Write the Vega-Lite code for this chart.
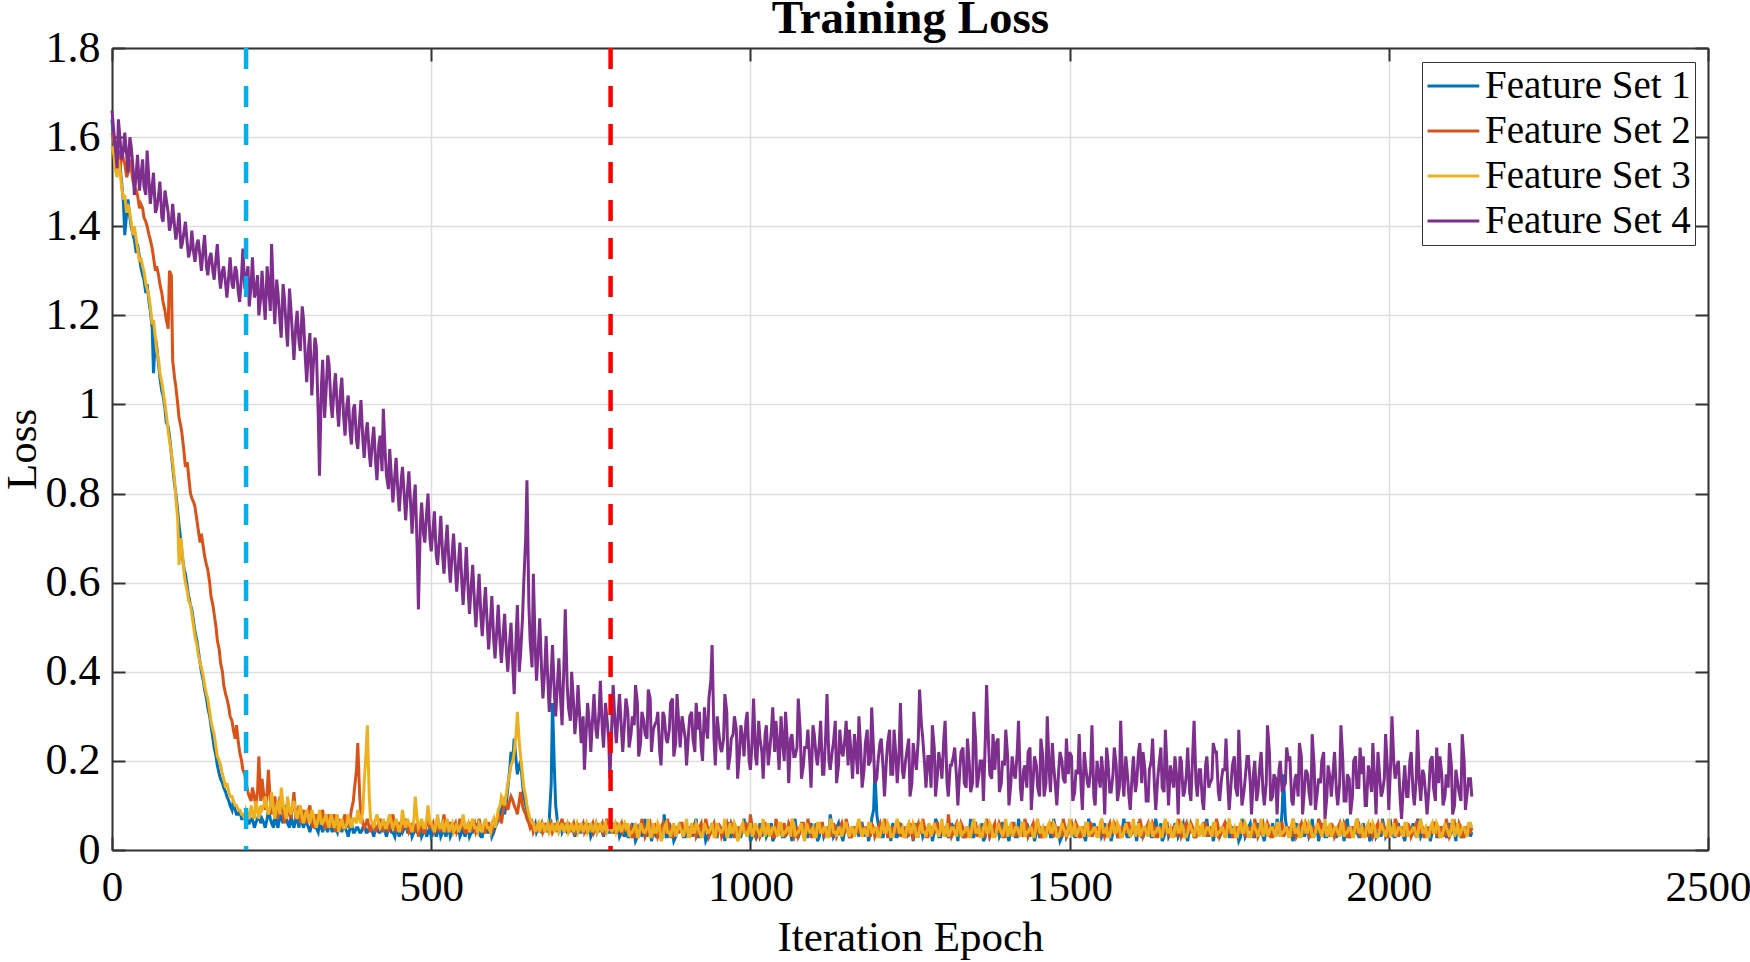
{
  "$schema": "https://vega.github.io/schema/vega-lite/v6.json",
  "width": 1596,
  "height": 802,
  "autosize": {"type": "none"},
  "padding": {"left": 112, "top": 48, "right": 42, "bottom": 112},
  "background": "white",
  "config": {
    "view": {"stroke": null},
    "axis": {
      "domainColor": "#333", "domainWidth": 2,
      "tickColor": "#333", "tickWidth": 2, "tickSize": -13,
      "labelFont": "Liberation Serif", "labelFontSize": 44, "labelColor": "#000",
      "titleFont": "Liberation Serif", "titleFontSize": 43, "titleFontWeight": "normal", "titleColor": "#000",
      "gridColor": "#dedede", "gridWidth": 1.5
    }
  },
  "datasets": {
    "loss": [
{"e":0,"a":1.64,"b":1.61,"c":1.58,"d":1.66},
{"e":3,"a":1.58,"b":1.59,"c":1.56,"d":1.61},
{"e":5,"a":1.55,"b":1.57,"c":1.53,"d":1.58},
{"e":8,"a":1.52,"b":1.58,"c":1.51,"d":1.53},
{"e":10,"a":1.57,"b":1.55,"c":1.55,"d":1.64},
{"e":13,"a":1.53,"b":1.53,"c":1.52,"d":1.59},
{"e":15,"a":1.50,"b":1.57,"c":1.49,"d":1.55},
{"e":18,"a":1.45,"b":1.55,"c":1.46,"d":1.57},
{"e":20,"a":1.38,"b":1.54,"c":1.47,"d":1.61},
{"e":23,"a":1.43,"b":1.51,"c":1.43,"d":1.56},
{"e":25,"a":1.46,"b":1.52,"c":1.45,"d":1.52},
{"e":28,"a":1.42,"b":1.55,"c":1.43,"d":1.60},
{"e":30,"a":1.40,"b":1.53,"c":1.41,"d":1.58},
{"e":33,"a":1.38,"b":1.50,"c":1.38,"d":1.53},
{"e":35,"a":1.37,"b":1.49,"c":1.40,"d":1.47},
{"e":38,"a":1.34,"b":1.48,"c":1.37,"d":1.52},
{"e":40,"a":1.36,"b":1.47,"c":1.35,"d":1.56},
{"e":43,"a":1.33,"b":1.44,"c":1.32,"d":1.48},
{"e":45,"a":1.31,"b":1.45,"c":1.33,"d":1.51},
{"e":48,"a":1.29,"b":1.44,"c":1.31,"d":1.55},
{"e":50,"a":1.28,"b":1.42,"c":1.30,"d":1.49},
{"e":53,"a":1.25,"b":1.41,"c":1.27,"d":1.47},
{"e":55,"a":1.27,"b":1.40,"c":1.26,"d":1.57},
{"e":58,"a":1.23,"b":1.38,"c":1.24,"d":1.50},
{"e":60,"a":1.21,"b":1.37,"c":1.22,"d":1.45},
{"e":63,"a":1.17,"b":1.35,"c":1.18,"d":1.49},
{"e":65,"a":1.07,"b":1.33,"c":1.19,"d":1.52},
{"e":68,"a":1.15,"b":1.30,"c":1.15,"d":1.43},
{"e":70,"a":1.13,"b":1.31,"c":1.12,"d":1.44},
{"e":73,"a":1.09,"b":1.29,"c":1.10,"d":1.47},
{"e":75,"a":1.06,"b":1.27,"c":1.07,"d":1.50},
{"e":78,"a":1.03,"b":1.25,"c":1.05,"d":1.42},
{"e":80,"a":1.02,"b":1.23,"c":1.03,"d":1.41},
{"e":83,"a":0.99,"b":1.21,"c":1.00,"d":1.48},
{"e":85,"a":0.96,"b":1.19,"c":0.98,"d":1.46},
{"e":88,"a":0.95,"b":1.17,"c":0.94,"d":1.43},
{"e":90,"a":0.93,"b":1.30,"c":0.92,"d":1.39},
{"e":93,"a":0.89,"b":1.29,"c":0.89,"d":1.41},
{"e":95,"a":0.86,"b":1.10,"c":0.87,"d":1.45},
{"e":98,"a":0.82,"b":1.06,"c":0.83,"d":1.40},
{"e":100,"a":0.80,"b":1.04,"c":0.79,"d":1.37},
{"e":103,"a":0.76,"b":1.00,"c":0.74,"d":1.40},
{"e":105,"a":0.73,"b":0.97,"c":0.64,"d":1.43},
{"e":108,"a":0.69,"b":0.95,"c":0.70,"d":1.35},
{"e":110,"a":0.66,"b":0.93,"c":0.67,"d":1.36},
{"e":113,"a":0.63,"b":0.89,"c":0.62,"d":1.39},
{"e":115,"a":0.62,"b":0.86,"c":0.60,"d":1.41},
{"e":118,"a":0.59,"b":0.87,"c":0.58,"d":1.36},
{"e":120,"a":0.57,"b":0.84,"c":0.56,"d":1.33},
{"e":123,"a":0.55,"b":0.80,"c":0.55,"d":1.35},
{"e":125,"a":0.54,"b":0.79,"c":0.53,"d":1.39},
{"e":128,"a":0.51,"b":0.78,"c":0.50,"d":1.34},
{"e":130,"a":0.49,"b":0.77,"c":0.48,"d":1.32},
{"e":133,"a":0.47,"b":0.74,"c":0.46,"d":1.36},
{"e":135,"a":0.45,"b":0.72,"c":0.44,"d":1.37},
{"e":138,"a":0.42,"b":0.69,"c":0.42,"d":1.33},
{"e":140,"a":0.40,"b":0.71,"c":0.41,"d":1.30},
{"e":143,"a":0.38,"b":0.68,"c":0.39,"d":1.35},
{"e":145,"a":0.36,"b":0.66,"c":0.37,"d":1.38},
{"e":148,"a":0.34,"b":0.64,"c":0.35,"d":1.31},
{"e":150,"a":0.32,"b":0.63,"c":0.34,"d":1.29},
{"e":153,"a":0.30,"b":0.60,"c":0.31,"d":1.33},
{"e":155,"a":0.28,"b":0.57,"c":0.29,"d":1.34},
{"e":158,"a":0.25,"b":0.55,"c":0.27,"d":1.30},
{"e":160,"a":0.23,"b":0.53,"c":0.26,"d":1.28},
{"e":163,"a":0.21,"b":0.50,"c":0.23,"d":1.33},
{"e":165,"a":0.19,"b":0.47,"c":0.21,"d":1.36},
{"e":168,"a":0.17,"b":0.45,"c":0.20,"d":1.29},
{"e":170,"a":0.16,"b":0.42,"c":0.19,"d":1.26},
{"e":173,"a":0.15,"b":0.40,"c":0.17,"d":1.30},
{"e":175,"a":0.14,"b":0.37,"c":0.16,"d":1.31},
{"e":178,"a":0.13,"b":0.35,"c":0.14,"d":1.27},
{"e":180,"a":0.12,"b":0.34,"c":0.15,"d":1.24},
{"e":183,"a":0.11,"b":0.32,"c":0.13,"d":1.29},
{"e":185,"a":0.10,"b":0.30,"c":0.12,"d":1.33},
{"e":188,"a":0.09,"b":0.29,"c":0.12,"d":1.27},
{"e":190,"a":0.11,"b":0.27,"c":0.11,"d":1.26},
{"e":193,"a":0.09,"b":0.25,"c":0.10,"d":1.31},
{"e":195,"a":0.08,"b":0.28,"c":0.10,"d":1.30},
{"e":198,"a":0.08,"b":0.24,"c":0.09,"d":1.25},
{"e":200,"a":0.09,"b":0.22,"c":0.09,"d":1.23},
{"e":203,"a":0.07,"b":0.20,"c":0.08,"d":1.29},
{"e":205,"a":0.07,"b":0.18,"c":0.08,"d":1.35},
{"e":208,"a":0.07,"b":0.17,"c":0.07,"d":1.26},
{"e":210,"a":0.08,"b":0.15,"c":0.09,"d":1.28},
{"e":213,"a":0.06,"b":0.13,"c":0.08,"d":1.31},
{"e":215,"a":0.06,"b":0.12,"c":0.07,"d":1.22},
{"e":218,"a":0.07,"b":0.11,"c":0.10,"d":1.27},
{"e":220,"a":0.07,"b":0.14,"c":0.08,"d":1.33},
{"e":223,"a":0.05,"b":0.12,"c":0.07,"d":1.24},
{"e":225,"a":0.06,"b":0.10,"c":0.11,"d":1.25},
{"e":228,"a":0.07,"b":0.13,"c":0.09,"d":1.29},
{"e":230,"a":0.08,"b":0.21,"c":0.07,"d":1.20},
{"e":233,"a":0.06,"b":0.11,"c":0.10,"d":1.24},
{"e":235,"a":0.07,"b":0.16,"c":0.09,"d":1.30},
{"e":238,"a":0.06,"b":0.12,"c":0.10,"d":1.23},
{"e":240,"a":0.05,"b":0.09,"c":0.12,"d":1.19},
{"e":243,"a":0.07,"b":0.13,"c":0.09,"d":1.31},
{"e":245,"a":0.09,"b":0.18,"c":0.08,"d":1.27},
{"e":248,"a":0.07,"b":0.11,"c":0.10,"d":1.21},
{"e":250,"a":0.06,"b":0.08,"c":0.13,"d":1.36},
{"e":253,"a":0.05,"b":0.10,"c":0.09,"d":1.24},
{"e":255,"a":0.08,"b":0.12,"c":0.07,"d":1.18},
{"e":258,"a":0.06,"b":0.09,"c":0.10,"d":1.28},
{"e":260,"a":0.05,"b":0.07,"c":0.11,"d":1.25},
{"e":263,"a":0.08,"b":0.12,"c":0.08,"d":1.19},
{"e":265,"a":0.07,"b":0.10,"c":0.14,"d":1.15},
{"e":268,"a":0.06,"b":0.08,"c":0.10,"d":1.27},
{"e":270,"a":0.10,"b":0.06,"c":0.09,"d":1.24},
{"e":273,"a":0.07,"b":0.09,"c":0.07,"d":1.17},
{"e":275,"a":0.06,"b":0.11,"c":0.12,"d":1.13},
{"e":278,"a":0.05,"b":0.08,"c":0.09,"d":1.26},
{"e":280,"a":0.08,"b":0.07,"c":0.08,"d":1.22},
{"e":283,"a":0.06,"b":0.10,"c":0.10,"d":1.15},
{"e":285,"a":0.05,"b":0.13,"c":0.11,"d":1.10},
{"e":288,"a":0.07,"b":0.07,"c":0.08,"d":1.18},
{"e":290,"a":0.07,"b":0.08,"c":0.07,"d":1.21},
{"e":293,"a":0.05,"b":0.10,"c":0.09,"d":1.14},
{"e":295,"a":0.09,"b":0.06,"c":0.10,"d":1.12},
{"e":298,"a":0.06,"b":0.08,"c":0.07,"d":1.22},
{"e":300,"a":0.05,"b":0.09,"c":0.06,"d":1.19},
{"e":303,"a":0.07,"b":0.06,"c":0.08,"d":1.10},
{"e":305,"a":0.06,"b":0.07,"c":0.09,"d":1.05},
{"e":308,"a":0.05,"b":0.09,"c":0.07,"d":1.13},
{"e":310,"a":0.04,"b":0.10,"c":0.06,"d":1.16},
{"e":313,"a":0.06,"b":0.06,"c":0.09,"d":1.02},
{"e":315,"a":0.07,"b":0.05,"c":0.08,"d":1.08},
{"e":318,"a":0.05,"b":0.07,"c":0.06,"d":1.15},
{"e":320,"a":0.05,"b":0.08,"c":0.05,"d":1.13},
{"e":323,"a":0.04,"b":0.06,"c":0.07,"d":0.98},
{"e":325,"a":0.06,"b":0.06,"c":0.09,"d":0.84},
{"e":328,"a":0.05,"b":0.08,"c":0.06,"d":1.04},
{"e":330,"a":0.04,"b":0.09,"c":0.06,"d":1.10},
{"e":333,"a":0.06,"b":0.05,"c":0.07,"d":0.97},
{"e":335,"a":0.05,"b":0.05,"c":0.08,"d":1.02},
{"e":338,"a":0.04,"b":0.07,"c":0.06,"d":1.11},
{"e":340,"a":0.07,"b":0.08,"c":0.05,"d":1.09},
{"e":343,"a":0.05,"b":0.05,"c":0.08,"d":1.00},
{"e":345,"a":0.04,"b":0.06,"c":0.07,"d":0.97},
{"e":348,"a":0.06,"b":0.08,"c":0.05,"d":1.04},
{"e":350,"a":0.05,"b":0.04,"c":0.06,"d":1.07},
{"e":353,"a":0.04,"b":0.06,"c":0.08,"d":0.99},
{"e":355,"a":0.06,"b":0.07,"c":0.04,"d":0.95},
{"e":358,"a":0.05,"b":0.05,"c":0.06,"d":1.03},
{"e":360,"a":0.04,"b":0.05,"c":0.07,"d":1.06},
{"e":363,"a":0.06,"b":0.07,"c":0.05,"d":0.97},
{"e":365,"a":0.05,"b":0.08,"c":0.05,"d":0.93},
{"e":368,"a":0.04,"b":0.05,"c":0.06,"d":1.00},
{"e":370,"a":0.03,"b":0.06,"c":0.08,"d":1.02},
{"e":373,"a":0.05,"b":0.07,"c":0.06,"d":0.94},
{"e":375,"a":0.06,"b":0.09,"c":0.05,"d":0.91},
{"e":378,"a":0.04,"b":0.11,"c":0.07,"d":0.99},
{"e":380,"a":0.04,"b":0.14,"c":0.07,"d":1.00},
{"e":383,"a":0.05,"b":0.18,"c":0.06,"d":0.92},
{"e":385,"a":0.05,"b":0.24,"c":0.09,"d":0.90},
{"e":388,"a":0.04,"b":0.12,"c":0.07,"d":0.97},
{"e":390,"a":0.04,"b":0.08,"c":0.06,"d":1.01},
{"e":393,"a":0.05,"b":0.06,"c":0.09,"d":0.92},
{"e":395,"a":0.06,"b":0.05,"c":0.15,"d":0.88},
{"e":398,"a":0.04,"b":0.06,"c":0.22,"d":0.94},
{"e":400,"a":0.04,"b":0.07,"c":0.28,"d":0.96},
{"e":403,"a":0.05,"b":0.05,"c":0.12,"d":0.89},
{"e":405,"a":0.05,"b":0.04,"c":0.07,"d":0.86},
{"e":408,"a":0.04,"b":0.06,"c":0.06,"d":0.92},
{"e":410,"a":0.03,"b":0.06,"c":0.05,"d":0.95},
{"e":413,"a":0.05,"b":0.04,"c":0.07,"d":0.87},
{"e":415,"a":0.05,"b":0.05,"c":0.08,"d":0.83},
{"e":418,"a":0.04,"b":0.06,"c":0.06,"d":0.91},
{"e":420,"a":0.04,"b":0.07,"c":0.05,"d":0.93},
{"e":423,"a":0.05,"b":0.05,"c":0.06,"d":0.85},
{"e":425,"a":0.06,"b":0.04,"c":0.07,"d":0.99},
{"e":428,"a":0.04,"b":0.06,"c":0.05,"d":0.89},
{"e":430,"a":0.03,"b":0.06,"c":0.05,"d":0.84},
{"e":433,"a":0.05,"b":0.04,"c":0.07,"d":0.81},
{"e":435,"a":0.05,"b":0.05,"c":0.08,"d":0.90},
{"e":438,"a":0.04,"b":0.07,"c":0.06,"d":0.83},
{"e":440,"a":0.04,"b":0.08,"c":0.05,"d":0.78},
{"e":443,"a":0.03,"b":0.05,"c":0.06,"d":0.84},
{"e":445,"a":0.05,"b":0.04,"c":0.07,"d":0.88},
{"e":448,"a":0.04,"b":0.06,"c":0.05,"d":0.80},
{"e":450,"a":0.03,"b":0.06,"c":0.04,"d":0.76},
{"e":453,"a":0.05,"b":0.04,"c":0.06,"d":0.83},
{"e":455,"a":0.04,"b":0.05,"c":0.09,"d":0.86},
{"e":458,"a":0.05,"b":0.06,"c":0.06,"d":0.79},
{"e":460,"a":0.06,"b":0.07,"c":0.05,"d":0.74},
{"e":463,"a":0.04,"b":0.05,"c":0.07,"d":0.81},
{"e":465,"a":0.04,"b":0.04,"c":0.06,"d":0.85},
{"e":468,"a":0.05,"b":0.05,"c":0.05,"d":0.77},
{"e":470,"a":0.03,"b":0.06,"c":0.04,"d":0.71},
{"e":473,"a":0.04,"b":0.04,"c":0.07,"d":0.79},
{"e":475,"a":0.05,"b":0.05,"c":0.12,"d":0.82},
{"e":478,"a":0.04,"b":0.06,"c":0.07,"d":0.68},
{"e":480,"a":0.04,"b":0.03,"c":0.05,"d":0.54},
{"e":483,"a":0.05,"b":0.05,"c":0.06,"d":0.73},
{"e":485,"a":0.03,"b":0.06,"c":0.07,"d":0.78},
{"e":488,"a":0.04,"b":0.04,"c":0.05,"d":0.71},
{"e":490,"a":0.05,"b":0.04,"c":0.05,"d":0.69},
{"e":493,"a":0.03,"b":0.06,"c":0.07,"d":0.76},
{"e":495,"a":0.04,"b":0.07,"c":0.10,"d":0.80},
{"e":498,"a":0.05,"b":0.05,"c":0.06,"d":0.70},
{"e":500,"a":0.03,"b":0.05,"c":0.06,"d":0.67},
{"e":503,"a":0.04,"b":0.06,"c":0.05,"d":0.72},
{"e":505,"a":0.05,"b":0.04,"c":0.04,"d":0.76},
{"e":508,"a":0.03,"b":0.05,"c":0.06,"d":0.66},
{"e":510,"a":0.04,"b":0.06,"c":0.08,"d":0.64},
{"e":513,"a":0.05,"b":0.04,"c":0.05,"d":0.70},
{"e":515,"a":0.03,"b":0.05,"c":0.05,"d":0.75},
{"e":518,"a":0.04,"b":0.06,"c":0.06,"d":0.66},
{"e":520,"a":0.05,"b":0.08,"c":0.04,"d":0.62},
{"e":523,"a":0.03,"b":0.05,"c":0.06,"d":0.69},
{"e":525,"a":0.04,"b":0.04,"c":0.07,"d":0.73},
{"e":528,"a":0.05,"b":0.06,"c":0.04,"d":0.64},
{"e":530,"a":0.03,"b":0.06,"c":0.05,"d":0.60},
{"e":533,"a":0.04,"b":0.04,"c":0.06,"d":0.67},
{"e":535,"a":0.06,"b":0.05,"c":0.04,"d":0.71},
{"e":538,"a":0.04,"b":0.06,"c":0.05,"d":0.63},
{"e":540,"a":0.04,"b":0.04,"c":0.06,"d":0.58},
{"e":543,"a":0.05,"b":0.05,"c":0.04,"d":0.65},
{"e":545,"a":0.03,"b":0.07,"c":0.05,"d":0.69},
{"e":548,"a":0.04,"b":0.05,"c":0.06,"d":0.60},
{"e":550,"a":0.05,"b":0.05,"c":0.08,"d":0.55},
{"e":553,"a":0.03,"b":0.04,"c":0.05,"d":0.62},
{"e":555,"a":0.04,"b":0.04,"c":0.05,"d":0.68},
{"e":558,"a":0.05,"b":0.06,"c":0.06,"d":0.58},
{"e":560,"a":0.03,"b":0.06,"c":0.04,"d":0.53},
{"e":563,"a":0.04,"b":0.04,"c":0.06,"d":0.60},
{"e":565,"a":0.04,"b":0.05,"c":0.07,"d":0.64},
{"e":568,"a":0.05,"b":0.06,"c":0.05,"d":0.55},
{"e":570,"a":0.06,"b":0.04,"c":0.05,"d":0.50},
{"e":573,"a":0.04,"b":0.05,"c":0.04,"d":0.57},
{"e":575,"a":0.04,"b":0.07,"c":0.06,"d":0.62},
{"e":578,"a":0.03,"b":0.05,"c":0.05,"d":0.52},
{"e":580,"a":0.03,"b":0.05,"c":0.04,"d":0.48},
{"e":583,"a":0.05,"b":0.04,"c":0.06,"d":0.55},
{"e":585,"a":0.05,"b":0.04,"c":0.07,"d":0.59},
{"e":588,"a":0.04,"b":0.06,"c":0.05,"d":0.50},
{"e":590,"a":0.04,"b":0.06,"c":0.05,"d":0.45},
{"e":593,"a":0.05,"b":0.04,"c":0.04,"d":0.52},
{"e":595,"a":0.03,"b":0.04,"c":0.06,"d":0.57},
{"e":598,"a":0.04,"b":0.06,"c":0.07,"d":0.47},
{"e":600,"a":0.05,"b":0.05,"c":0.05,"d":0.43},
{"e":603,"a":0.06,"b":0.07,"c":0.07,"d":0.50},
{"e":605,"a":0.07,"b":0.08,"c":0.09,"d":0.55},
{"e":608,"a":0.08,"b":0.07,"c":0.10,"d":0.46},
{"e":610,"a":0.10,"b":0.06,"c":0.12,"d":0.42},
{"e":613,"a":0.09,"b":0.09,"c":0.11,"d":0.49},
{"e":615,"a":0.08,"b":0.11,"c":0.10,"d":0.53},
{"e":618,"a":0.11,"b":0.10,"c":0.13,"d":0.44},
{"e":620,"a":0.14,"b":0.09,"c":0.15,"d":0.40},
{"e":623,"a":0.18,"b":0.11,"c":0.17,"d":0.47},
{"e":625,"a":0.22,"b":0.12,"c":0.19,"d":0.51},
{"e":628,"a":0.21,"b":0.11,"c":0.20,"d":0.41},
{"e":630,"a":0.25,"b":0.10,"c":0.22,"d":0.35},
{"e":633,"a":0.20,"b":0.09,"c":0.26,"d":0.48},
{"e":635,"a":0.17,"b":0.08,"c":0.31,"d":0.55},
{"e":638,"a":0.19,"b":0.11,"c":0.24,"d":0.40},
{"e":640,"a":0.20,"b":0.13,"c":0.21,"d":0.44},
{"e":643,"a":0.15,"b":0.10,"c":0.17,"d":0.52},
{"e":645,"a":0.12,"b":0.09,"c":0.14,"d":0.60},
{"e":648,"a":0.10,"b":0.08,"c":0.12,"d":0.70},
{"e":650,"a":0.09,"b":0.07,"c":0.10,"d":0.83},
{"e":653,"a":0.07,"b":0.06,"c":0.08,"d":0.55},
{"e":655,"a":0.06,"b":0.05,"c":0.07,"d":0.47},
{"e":658,"a":0.05,"b":0.06,"c":0.06,"d":0.41},
{"e":660,"a":0.05,"b":0.04,"c":0.06,"d":0.62},
{"e":663,"a":0.06,"b":0.05,"c":0.04,"d":0.45},
{"e":665,"a":0.04,"b":0.06,"c":0.05,"d":0.38},
{"e":668,"a":0.05,"b":0.04,"c":0.06,"d":0.46},
{"e":670,"a":0.06,"b":0.05,"c":0.04,"d":0.52},
{"e":673,"a":0.04,"b":0.06,"c":0.06,"d":0.40},
{"e":675,"a":0.04,"b":0.04,"c":0.06,"d":0.34},
{"e":678,"a":0.06,"b":0.05,"c":0.04,"d":0.41},
{"e":680,"a":0.05,"b":0.06,"c":0.05,"d":0.48},
{"e":683,"a":0.04,"b":0.04,"c":0.06,"d":0.37},
{"e":685,"a":0.07,"b":0.05,"c":0.04,"d":0.31},
{"e":688,"a":0.15,"b":0.06,"c":0.05,"d":0.40},
{"e":690,"a":0.33,"b":0.04,"c":0.06,"d":0.46},
{"e":693,"a":0.18,"b":0.05,"c":0.04,"d":0.35},
{"e":695,"a":0.10,"b":0.06,"c":0.05,"d":0.30},
{"e":698,"a":0.06,"b":0.04,"c":0.06,"d":0.38},
{"e":700,"a":0.05,"b":0.05,"c":0.04,"d":0.43},
{"e":703,"a":0.06,"b":0.06,"c":0.05,"d":0.33},
{"e":705,"a":0.04,"b":0.07,"c":0.06,"d":0.28},
{"e":708,"a":0.05,"b":0.05,"c":0.04,"d":0.42},
{"e":710,"a":0.06,"b":0.04,"c":0.05,"d":0.54},
{"e":713,"a":0.04,"b":0.06,"c":0.06,"d":0.37},
{"e":715,"a":0.04,"b":0.06,"c":0.04,"d":0.32},
{"e":718,"a":0.05,"b":0.04,"c":0.05,"d":0.29},
{"e":720,"a":0.05,"b":0.05,"c":0.06,"d":0.40},
{"e":723,"a":0.04,"b":0.06,"c":0.04,"d":0.33},
{"e":725,"a":0.03,"b":0.04,"c":0.05,"d":0.26},
{"e":728,"a":0.05,"b":0.05,"c":0.06,"d":0.31},
{"e":730,"a":0.05,"b":0.06,"c":0.04,"d":0.37},
{"e":733,"a":0.04,"b":0.04,"c":0.05,"d":0.29},
{"e":735,"a":0.04,"b":0.05,"c":0.06,"d":0.24},
{"e":738,"a":0.05,"b":0.06,"c":0.04,"d":0.30},
{"e":740,"a":0.06,"b":0.04,"c":0.05,"d":0.18},
{"e":743,"a":0.04,"b":0.05,"c":0.06,"d":0.27},
{"e":745,"a":0.04,"b":0.06,"c":0.04,"d":0.33},
{"e":748,"a":0.05,"b":0.04,"c":0.05,"d":0.28},
{"e":750,"a":0.03,"b":0.05,"c":0.06,"d":0.22},
{"e":753,"a":0.04,"b":0.06,"c":0.04,"d":0.30},
{"e":755,"a":0.05,"b":0.04,"c":0.05,"d":0.35},
{"e":758,"a":0.06,"b":0.05,"c":0.06,"d":0.27},
{"e":760,"a":0.04,"b":0.06,"c":0.04,"d":0.25},
{"e":763,"a":0.05,"b":0.04,"c":0.05,"d":0.31},
{"e":765,"a":0.06,"b":0.05,"c":0.06,"d":0.38},
{"e":768,"a":0.04,"b":0.06,"c":0.04,"d":0.27},
{"e":770,"a":0.03,"b":0.04,"c":0.05,"d":0.23},
{"e":773,"a":0.05,"b":0.05,"c":0.06,"d":0.33},
{"e":775,"a":0.05,"b":0.07,"c":0.04,"d":0.30},
{"e":778,"a":0.04,"b":0.05,"c":0.05,"d":0.25},
{"e":780,"a":0.04,"b":0.05,"c":0.06,"d":0.16},
{"e":783,"a":0.05,"b":0.04,"c":0.04,"d":0.29},
{"e":785,"a":0.06,"b":0.04,"c":0.05,"d":0.37},
{"e":788,"a":0.04,"b":0.06,"c":0.06,"d":0.28},
{"e":790,"a":0.04,"b":0.06,"c":0.04,"d":0.24},
{"e":793,"a":0.05,"b":0.04,"c":0.05,"d":0.31},
{"e":795,"a":0.03,"b":0.05,"c":0.06,"d":0.35},
{"e":798,"a":0.04,"b":0.06,"c":0.04,"d":0.27},
{"e":800,"a":0.05,"b":0.04,"c":0.05,"d":0.22},
{"e":803,"a":0.03,"b":0.05,"c":0.06,"d":0.29},
{"e":805,"a":0.04,"b":0.05,"c":0.05,"d":0.34},
{"e":808,"a":0.03,"b":0.04,"c":0.06,"d":0.31},
{"e":810,"a":0.03,"b":0.04,"c":0.03,"d":0.23},
{"e":813,"a":0.05,"b":0.05,"c":0.04,"d":0.26},
{"e":815,"a":0.06,"b":0.03,"c":0.04,"d":0.30},
{"e":818,"a":0.04,"b":0.03,"c":0.05,"d":0.28},
{"e":820,"a":0.02,"b":0.06,"c":0.06,"d":0.37},
{"e":823,"a":0.03,"b":0.05,"c":0.03,"d":0.33},
{"e":825,"a":0.05,"b":0.04,"c":0.03,"d":0.21},
{"e":828,"a":0.06,"b":0.04,"c":0.06,"d":0.24},
{"e":830,"a":0.03,"b":0.07,"c":0.05,"d":0.31},
{"e":833,"a":0.04,"b":0.05,"c":0.04,"d":0.29},
{"e":835,"a":0.07,"b":0.03,"c":0.04,"d":0.26},
{"e":838,"a":0.03,"b":0.04,"c":0.05,"d":0.25},
{"e":840,"a":0.04,"b":0.05,"c":0.07,"d":0.36},
{"e":843,"a":0.05,"b":0.06,"c":0.03,"d":0.34},
{"e":845,"a":0.02,"b":0.04,"c":0.03,"d":0.22},
{"e":848,"a":0.04,"b":0.03,"c":0.06,"d":0.27},
{"e":850,"a":0.05,"b":0.06,"c":0.04,"d":0.28},
{"e":853,"a":0.03,"b":0.05,"c":0.04,"d":0.29},
{"e":855,"a":0.03,"b":0.03,"c":0.06,"d":0.31},
{"e":858,"a":0.05,"b":0.04,"c":0.05,"d":0.22},
{"e":860,"a":0.04,"b":0.05,"c":0.02,"d":0.19},
{"e":863,"a":0.04,"b":0.06,"c":0.03,"d":0.31},
{"e":865,"a":0.08,"b":0.04,"c":0.05,"d":0.30},
{"e":868,"a":0.03,"b":0.04,"c":0.06,"d":0.25},
{"e":870,"a":0.03,"b":0.07,"c":0.04,"d":0.24},
{"e":873,"a":0.06,"b":0.05,"c":0.04,"d":0.27},
{"e":875,"a":0.05,"b":0.03,"c":0.03,"d":0.33},
{"e":878,"a":0.04,"b":0.03,"c":0.05,"d":0.34},
{"e":880,"a":0.02,"b":0.05,"c":0.06,"d":0.21},
{"e":883,"a":0.03,"b":0.05,"c":0.03,"d":0.24},
{"e":885,"a":0.04,"b":0.04,"c":0.04,"d":0.35},
{"e":888,"a":0.05,"b":0.04,"c":0.06,"d":0.28},
{"e":890,"a":0.06,"b":0.06,"c":0.05,"d":0.23},
{"e":893,"a":0.04,"b":0.06,"c":0.04,"d":0.30},
{"e":895,"a":0.03,"b":0.03,"c":0.03,"d":0.28},
{"e":898,"a":0.03,"b":0.04,"c":0.05,"d":0.25},
{"e":900,"a":0.05,"b":0.05,"c":0.07,"d":0.19},
{"e":903,"a":0.05,"b":0.05,"c":0.03,"d":0.26},
{"e":905,"a":0.04,"b":0.04,"c":0.03,"d":0.30},
{"e":908,"a":0.04,"b":0.03,"c":0.06,"d":0.31},
{"e":910,"a":0.03,"b":0.06,"c":0.04,"d":0.25},
{"e":913,"a":0.06,"b":0.05,"c":0.04,"d":0.22},
{"e":915,"a":0.07,"b":0.03,"c":0.06,"d":0.33},
{"e":918,"a":0.03,"b":0.04,"c":0.05,"d":0.27},
{"e":920,"a":0.03,"b":0.05,"c":0.04,"d":0.31},
{"e":923,"a":0.05,"b":0.06,"c":0.03,"d":0.23},
{"e":925,"a":0.05,"b":0.04,"c":0.03,"d":0.20},
{"e":928,"a":0.04,"b":0.04,"c":0.06,"d":0.32},
{"e":930,"a":0.02,"b":0.07,"c":0.05,"d":0.28},
{"e":933,"a":0.03,"b":0.05,"c":0.04,"d":0.25},
{"e":935,"a":0.04,"b":0.03,"c":0.04,"d":0.34},
{"e":938,"a":0.05,"b":0.04,"c":0.05,"d":0.38},
{"e":940,"a":0.06,"b":0.05,"c":0.06,"d":0.46},
{"e":943,"a":0.04,"b":0.06,"c":0.03,"d":0.25},
{"e":945,"a":0.03,"b":0.04,"c":0.03,"d":0.19},
{"e":948,"a":0.03,"b":0.03,"c":0.06,"d":0.30},
{"e":950,"a":0.05,"b":0.06,"c":0.05,"d":0.27},
{"e":953,"a":0.05,"b":0.05,"c":0.04,"d":0.23},
{"e":955,"a":0.04,"b":0.03,"c":0.04,"d":0.22},
{"e":958,"a":0.04,"b":0.04,"c":0.05,"d":0.25},
{"e":960,"a":0.02,"b":0.05,"c":0.07,"d":0.35},
{"e":963,"a":0.06,"b":0.06,"c":0.03,"d":0.31},
{"e":965,"a":0.06,"b":0.04,"c":0.03,"d":0.18},
{"e":968,"a":0.03,"b":0.04,"c":0.06,"d":0.21},
{"e":970,"a":0.03,"b":0.06,"c":0.04,"d":0.25},
{"e":973,"a":0.05,"b":0.05,"c":0.04,"d":0.26},
{"e":975,"a":0.05,"b":0.03,"c":0.06,"d":0.30},
{"e":978,"a":0.04,"b":0.03,"c":0.05,"d":0.27},
{"e":980,"a":0.04,"b":0.05,"c":0.02,"d":0.16},
{"e":983,"a":0.03,"b":0.05,"c":0.03,"d":0.22},
{"e":985,"a":0.03,"b":0.04,"c":0.05,"d":0.28},
{"e":988,"a":0.05,"b":0.04,"c":0.06,"d":0.25},
{"e":990,"a":0.07,"b":0.06,"c":0.04,"d":0.21},
{"e":993,"a":0.04,"b":0.06,"c":0.04,"d":0.29},
{"e":995,"a":0.04,"b":0.03,"c":0.03,"d":0.31},
{"e":998,"a":0.06,"b":0.04,"c":0.05,"d":0.20},
{"e":1000,"a":0.02,"b":0.08,"c":0.06,"d":0.18},
{"e":1003,"a":0.03,"b":0.05,"c":0.03,"d":0.25},
{"e":1005,"a":0.05,"b":0.04,"c":0.04,"d":0.34},
{"e":1008,"a":0.05,"b":0.03,"c":0.06,"d":0.21},
{"e":1010,"a":0.03,"b":0.05,"c":0.05,"d":0.19},
{"e":1013,"a":0.04,"b":0.05,"c":0.04,"d":0.29},
{"e":1015,"a":0.06,"b":0.03,"c":0.03,"d":0.25},
{"e":1018,"a":0.03,"b":0.04,"c":0.05,"d":0.22},
{"e":1020,"a":0.04,"b":0.06,"c":0.07,"d":0.16},
{"e":1023,"a":0.05,"b":0.06,"c":0.03,"d":0.26},
{"e":1025,"a":0.03,"b":0.04,"c":0.04,"d":0.28},
{"e":1028,"a":0.04,"b":0.04,"c":0.06,"d":0.19},
{"e":1030,"a":0.05,"b":0.05,"c":0.03,"d":0.22},
{"e":1033,"a":0.06,"b":0.05,"c":0.04,"d":0.27},
{"e":1035,"a":0.02,"b":0.03,"c":0.05,"d":0.32},
{"e":1038,"a":0.03,"b":0.03,"c":0.05,"d":0.22},
{"e":1040,"a":0.04,"b":0.07,"c":0.04,"d":0.29},
{"e":1043,"a":0.05,"b":0.05,"c":0.03,"d":0.23},
{"e":1045,"a":0.06,"b":0.04,"c":0.06,"d":0.18},
{"e":1048,"a":0.04,"b":0.04,"c":0.06,"d":0.30},
{"e":1050,"a":0.03,"b":0.05,"c":0.03,"d":0.25},
{"e":1053,"a":0.03,"b":0.06,"c":0.04,"d":0.20},
{"e":1055,"a":0.05,"b":0.03,"c":0.04,"d":0.31},
{"e":1058,"a":0.05,"b":0.04,"c":0.05,"d":0.24},
{"e":1060,"a":0.04,"b":0.06,"c":0.05,"d":0.15},
{"e":1063,"a":0.04,"b":0.05,"c":0.03,"d":0.25},
{"e":1065,"a":0.02,"b":0.04,"c":0.07,"d":0.26},
{"e":1068,"a":0.06,"b":0.03,"c":0.06,"d":0.21},
{"e":1070,"a":0.07,"b":0.05,"c":0.03,"d":0.21},
{"e":1073,"a":0.03,"b":0.05,"c":0.04,"d":0.23},
{"e":1075,"a":0.03,"b":0.03,"c":0.04,"d":0.34},
{"e":1078,"a":0.05,"b":0.04,"c":0.05,"d":0.27},
{"e":1080,"a":0.05,"b":0.06,"c":0.06,"d":0.16},
{"e":1083,"a":0.04,"b":0.06,"c":0.03,"d":0.19},
{"e":1085,"a":0.04,"b":0.04,"c":0.02,"d":0.23},
{"e":1088,"a":0.03,"b":0.04,"c":0.06,"d":0.23},
{"e":1090,"a":0.03,"b":0.07,"c":0.05,"d":0.27},
{"e":1093,"a":0.05,"b":0.05,"c":0.04,"d":0.20},
{"e":1095,"a":0.06,"b":0.03,"c":0.04,"d":0.14},
{"e":1098,"a":0.04,"b":0.03,"c":0.05,"d":0.28},
{"e":1100,"a":0.04,"b":0.05,"c":0.03,"d":0.26},
{"e":1103,"a":0.06,"b":0.05,"c":0.03,"d":0.21},
{"e":1105,"a":0.02,"b":0.04,"c":0.06,"d":0.19},
{"e":1108,"a":0.03,"b":0.04,"c":0.06,"d":0.24},
{"e":1110,"a":0.05,"b":0.06,"c":0.04,"d":0.29},
{"e":1113,"a":0.05,"b":0.06,"c":0.04,"d":0.17},
{"e":1115,"a":0.03,"b":0.03,"c":0.05,"d":0.17},
{"e":1118,"a":0.04,"b":0.04,"c":0.05,"d":0.26},
{"e":1120,"a":0.04,"b":0.05,"c":0.03,"d":0.35},
{"e":1123,"a":0.03,"b":0.05,"c":0.03,"d":0.20},
{"e":1125,"a":0.08,"b":0.04,"c":0.07,"d":0.18},
{"e":1128,"a":0.05,"b":0.03,"c":0.06,"d":0.22},
{"e":1130,"a":0.03,"b":0.06,"c":0.04,"d":0.24},
{"e":1133,"a":0.04,"b":0.05,"c":0.04,"d":0.29},
{"e":1135,"a":0.05,"b":0.03,"c":0.03,"d":0.15},
{"e":1138,"a":0.06,"b":0.04,"c":0.05,"d":0.19},
{"e":1140,"a":0.04,"b":0.05,"c":0.05,"d":0.27},
{"e":1143,"a":0.03,"b":0.06,"c":0.03,"d":0.22},
{"e":1145,"a":0.02,"b":0.04,"c":0.04,"d":0.21},
{"e":1148,"a":0.05,"b":0.04,"c":0.06,"d":0.25},
{"e":1150,"a":0.06,"b":0.07,"c":0.06,"d":0.29},
{"e":1153,"a":0.04,"b":0.05,"c":0.04,"d":0.19},
{"e":1155,"a":0.03,"b":0.03,"c":0.03,"d":0.27},
{"e":1158,"a":0.03,"b":0.03,"c":0.05,"d":0.21},
{"e":1160,"a":0.05,"b":0.05,"c":0.05,"d":0.16},
{"e":1163,"a":0.05,"b":0.05,"c":0.03,"d":0.26},
{"e":1165,"a":0.04,"b":0.04,"c":0.04,"d":0.23},
{"e":1168,"a":0.04,"b":0.04,"c":0.06,"d":0.17},
{"e":1170,"a":0.03,"b":0.06,"c":0.07,"d":0.30},
{"e":1173,"a":0.06,"b":0.06,"c":0.04,"d":0.22},
{"e":1175,"a":0.06,"b":0.03,"c":0.03,"d":0.14},
{"e":1178,"a":0.03,"b":0.04,"c":0.05,"d":0.18},
{"e":1180,"a":0.04,"b":0.05,"c":0.04,"d":0.24},
{"e":1183,"a":0.05,"b":0.05,"c":0.03,"d":0.27},
{"e":1185,"a":0.02,"b":0.04,"c":0.06,"d":0.19},
{"e":1188,"a":0.04,"b":0.03,"c":0.06,"d":0.20},
{"e":1190,"a":0.07,"b":0.06,"c":0.04,"d":0.32},
{"e":1193,"a":0.09,"b":0.05,"c":0.04,"d":0.22},
{"e":1195,"a":0.18,"b":0.03,"c":0.05,"d":0.15},
{"e":1198,"a":0.08,"b":0.04,"c":0.05,"d":0.16},
{"e":1200,"a":0.06,"b":0.05,"c":0.03,"d":0.20},
{"e":1203,"a":0.04,"b":0.06,"c":0.03,"d":0.24},
{"e":1205,"a":0.03,"b":0.04,"c":0.05,"d":0.25},
{"e":1208,"a":0.03,"b":0.04,"c":0.06,"d":0.18},
{"e":1210,"a":0.05,"b":0.07,"c":0.04,"d":0.12},
{"e":1213,"a":0.05,"b":0.05,"c":0.04,"d":0.20},
{"e":1215,"a":0.04,"b":0.03,"c":0.06,"d":0.24},
{"e":1218,"a":0.04,"b":0.03,"c":0.05,"d":0.27},
{"e":1220,"a":0.02,"b":0.05,"c":0.03,"d":0.17},
{"e":1223,"a":0.06,"b":0.05,"c":0.03,"d":0.17},
{"e":1225,"a":0.05,"b":0.04,"c":0.04,"d":0.27},
{"e":1228,"a":0.03,"b":0.04,"c":0.06,"d":0.21},
{"e":1230,"a":0.03,"b":0.06,"c":0.07,"d":0.15},
{"e":1233,"a":0.05,"b":0.06,"c":0.04,"d":0.22},
{"e":1235,"a":0.06,"b":0.03,"c":0.04,"d":0.33},
{"e":1238,"a":0.04,"b":0.04,"c":0.05,"d":0.18},
{"e":1240,"a":0.04,"b":0.05,"c":0.03,"d":0.16},
{"e":1243,"a":0.03,"b":0.05,"c":0.03,"d":0.20},
{"e":1245,"a":0.03,"b":0.04,"c":0.05,"d":0.22},
{"e":1248,"a":0.05,"b":0.03,"c":0.06,"d":0.25},
{"e":1250,"a":0.05,"b":0.06,"c":0.04,"d":0.12},
{"e":1253,"a":0.04,"b":0.05,"c":0.04,"d":0.15},
{"e":1255,"a":0.02,"b":0.03,"c":0.06,"d":0.24},
{"e":1258,"a":0.06,"b":0.04,"c":0.05,"d":0.20},
{"e":1260,"a":0.04,"b":0.05,"c":0.03,"d":0.18},
{"e":1263,"a":0.03,"b":0.06,"c":0.03,"d":0.25},
{"e":1265,"a":0.06,"b":0.04,"c":0.05,"d":0.36},
{"e":1268,"a":0.05,"b":0.04,"c":0.06,"d":0.28},
{"e":1270,"a":0.03,"b":0.07,"c":0.04,"d":0.25},
{"e":1273,"a":0.04,"b":0.05,"c":0.04,"d":0.19},
{"e":1275,"a":0.05,"b":0.03,"c":0.03,"d":0.14},
{"e":1278,"a":0.03,"b":0.03,"c":0.05,"d":0.21},
{"e":1280,"a":0.04,"b":0.05,"c":0.06,"d":0.21},
{"e":1283,"a":0.05,"b":0.05,"c":0.03,"d":0.14},
{"e":1285,"a":0.02,"b":0.04,"c":0.04,"d":0.28},
{"e":1288,"a":0.04,"b":0.04,"c":0.06,"d":0.23},
{"e":1290,"a":0.07,"b":0.06,"c":0.05,"d":0.12},
{"e":1293,"a":0.06,"b":0.06,"c":0.04,"d":0.17},
{"e":1295,"a":0.03,"b":0.03,"c":0.03,"d":0.22},
{"e":1298,"a":0.03,"b":0.04,"c":0.05,"d":0.19},
{"e":1300,"a":0.05,"b":0.05,"c":0.07,"d":0.16},
{"e":1303,"a":0.05,"b":0.05,"c":0.03,"d":0.25},
{"e":1305,"a":0.04,"b":0.04,"c":0.04,"d":0.29},
{"e":1308,"a":0.04,"b":0.03,"c":0.06,"d":0.15},
{"e":1310,"a":0.03,"b":0.08,"c":0.03,"d":0.12},
{"e":1313,"a":0.03,"b":0.05,"c":0.04,"d":0.19},
{"e":1315,"a":0.06,"b":0.03,"c":0.05,"d":0.19},
{"e":1318,"a":0.05,"b":0.04,"c":0.05,"d":0.21},
{"e":1320,"a":0.04,"b":0.05,"c":0.04,"d":0.23},
{"e":1323,"a":0.04,"b":0.06,"c":0.03,"d":0.16},
{"e":1325,"a":0.02,"b":0.04,"c":0.06,"d":0.10},
{"e":1328,"a":0.06,"b":0.04,"c":0.06,"d":0.18},
{"e":1330,"a":0.05,"b":0.06,"c":0.03,"d":0.22},
{"e":1333,"a":0.03,"b":0.05,"c":0.04,"d":0.23},
{"e":1335,"a":0.03,"b":0.03,"c":0.04,"d":0.15},
{"e":1338,"a":0.05,"b":0.03,"c":0.05,"d":0.14},
{"e":1340,"a":0.04,"b":0.05,"c":0.05,"d":0.25},
{"e":1343,"a":0.04,"b":0.05,"c":0.03,"d":0.19},
{"e":1345,"a":0.07,"b":0.04,"c":0.03,"d":0.13},
{"e":1348,"a":0.03,"b":0.04,"c":0.06,"d":0.15},
{"e":1350,"a":0.03,"b":0.06,"c":0.07,"d":0.31},
{"e":1353,"a":0.05,"b":0.06,"c":0.04,"d":0.24},
{"e":1355,"a":0.05,"b":0.03,"c":0.04,"d":0.14},
{"e":1358,"a":0.04,"b":0.04,"c":0.05,"d":0.17},
{"e":1360,"a":0.04,"b":0.05,"c":0.03,"d":0.20},
{"e":1363,"a":0.06,"b":0.05,"c":0.03,"d":0.20},
{"e":1365,"a":0.02,"b":0.04,"c":0.05,"d":0.11},
{"e":1368,"a":0.03,"b":0.03,"c":0.06,"d":0.25},
{"e":1370,"a":0.06,"b":0.07,"c":0.04,"d":0.37},
{"e":1373,"a":0.05,"b":0.05,"c":0.04,"d":0.24},
{"e":1375,"a":0.03,"b":0.03,"c":0.06,"d":0.17},
{"e":1378,"a":0.04,"b":0.04,"c":0.05,"d":0.16},
{"e":1380,"a":0.05,"b":0.05,"c":0.03,"d":0.26},
{"e":1383,"a":0.03,"b":0.06,"c":0.03,"d":0.18},
{"e":1385,"a":0.04,"b":0.04,"c":0.04,"d":0.24},
{"e":1388,"a":0.05,"b":0.04,"c":0.06,"d":0.25},
{"e":1390,"a":0.03,"b":0.06,"c":0.05,"d":0.13},
{"e":1393,"a":0.04,"b":0.05,"c":0.04,"d":0.15},
{"e":1395,"a":0.06,"b":0.03,"c":0.03,"d":0.20},
{"e":1398,"a":0.06,"b":0.03,"c":0.05,"d":0.19},
{"e":1400,"a":0.04,"b":0.05,"c":0.07,"d":0.27},
{"e":1403,"a":0.03,"b":0.05,"c":0.03,"d":0.21},
{"e":1405,"a":0.02,"b":0.04,"c":0.04,"d":0.10},
{"e":1408,"a":0.05,"b":0.04,"c":0.06,"d":0.15},
{"e":1410,"a":0.05,"b":0.06,"c":0.03,"d":0.21},
{"e":1413,"a":0.04,"b":0.06,"c":0.04,"d":0.17},
{"e":1415,"a":0.03,"b":0.03,"c":0.05,"d":0.16},
{"e":1418,"a":0.03,"b":0.04,"c":0.05,"d":0.22},
{"e":1420,"a":0.07,"b":0.05,"c":0.04,"d":0.29},
{"e":1423,"a":0.05,"b":0.05,"c":0.03,"d":0.14},
{"e":1425,"a":0.04,"b":0.04,"c":0.06,"d":0.11},
{"e":1428,"a":0.04,"b":0.03,"c":0.06,"d":0.18},
{"e":1430,"a":0.03,"b":0.07,"c":0.03,"d":0.19},
{"e":1433,"a":0.06,"b":0.05,"c":0.04,"d":0.14},
{"e":1435,"a":0.05,"b":0.03,"c":0.04,"d":0.22},
{"e":1438,"a":0.03,"b":0.04,"c":0.05,"d":0.23},
{"e":1440,"a":0.04,"b":0.05,"c":0.05,"d":0.09},
{"e":1443,"a":0.05,"b":0.06,"c":0.03,"d":0.16},
{"e":1445,"a":0.02,"b":0.04,"c":0.03,"d":0.21},
{"e":1448,"a":0.04,"b":0.04,"c":0.06,"d":0.19},
{"e":1450,"a":0.06,"b":0.06,"c":0.07,"d":0.14},
{"e":1453,"a":0.03,"b":0.05,"c":0.04,"d":0.12},
{"e":1455,"a":0.03,"b":0.03,"c":0.04,"d":0.25},
{"e":1458,"a":0.05,"b":0.03,"c":0.05,"d":0.21},
{"e":1460,"a":0.05,"b":0.05,"c":0.03,"d":0.12},
{"e":1463,"a":0.04,"b":0.05,"c":0.03,"d":0.15},
{"e":1465,"a":0.04,"b":0.04,"c":0.05,"d":0.30},
{"e":1468,"a":0.06,"b":0.04,"c":0.06,"d":0.18},
{"e":1470,"a":0.03,"b":0.06,"c":0.04,"d":0.13},
{"e":1473,"a":0.03,"b":0.06,"c":0.04,"d":0.24},
{"e":1475,"a":0.07,"b":0.03,"c":0.06,"d":0.19},
{"e":1478,"a":0.05,"b":0.04,"c":0.05,"d":0.14},
{"e":1480,"a":0.04,"b":0.05,"c":0.03,"d":0.10},
{"e":1483,"a":0.04,"b":0.05,"c":0.03,"d":0.18},
{"e":1485,"a":0.02,"b":0.04,"c":0.04,"d":0.22},
{"e":1488,"a":0.03,"b":0.03,"c":0.06,"d":0.20},
{"e":1490,"a":0.05,"b":0.07,"c":0.05,"d":0.16},
{"e":1493,"a":0.05,"b":0.05,"c":0.04,"d":0.15},
{"e":1495,"a":0.03,"b":0.03,"c":0.03,"d":0.25},
{"e":1498,"a":0.04,"b":0.04,"c":0.05,"d":0.17},
{"e":1500,"a":0.06,"b":0.05,"c":0.07,"d":0.22},
{"e":1503,"a":0.06,"b":0.06,"c":0.03,"d":0.21},
{"e":1505,"a":0.04,"b":0.04,"c":0.04,"d":0.11},
{"e":1508,"a":0.03,"b":0.04,"c":0.06,"d":0.13},
{"e":1510,"a":0.03,"b":0.06,"c":0.03,"d":0.18},
{"e":1513,"a":0.05,"b":0.05,"c":0.04,"d":0.17},
{"e":1515,"a":0.05,"b":0.03,"c":0.05,"d":0.26},
{"e":1518,"a":0.04,"b":0.03,"c":0.05,"d":0.14},
{"e":1520,"a":0.04,"b":0.05,"c":0.04,"d":0.09},
{"e":1523,"a":0.03,"b":0.05,"c":0.03,"d":0.22},
{"e":1525,"a":0.02,"b":0.04,"c":0.06,"d":0.19},
{"e":1528,"a":0.05,"b":0.04,"c":0.06,"d":0.15},
{"e":1530,"a":0.07,"b":0.06,"c":0.03,"d":0.14},
{"e":1533,"a":0.04,"b":0.06,"c":0.04,"d":0.18},
{"e":1535,"a":0.03,"b":0.03,"c":0.04,"d":0.28},
{"e":1538,"a":0.06,"b":0.04,"c":0.05,"d":0.12},
{"e":1540,"a":0.05,"b":0.05,"c":0.05,"d":0.10},
{"e":1543,"a":0.03,"b":0.05,"c":0.03,"d":0.20},
{"e":1545,"a":0.04,"b":0.04,"c":0.03,"d":0.17},
{"e":1548,"a":0.05,"b":0.03,"c":0.06,"d":0.14},
{"e":1550,"a":0.03,"b":0.07,"c":0.07,"d":0.21},
{"e":1553,"a":0.04,"b":0.05,"c":0.04,"d":0.16},
{"e":1555,"a":0.06,"b":0.03,"c":0.04,"d":0.08},
{"e":1558,"a":0.03,"b":0.04,"c":0.05,"d":0.23},
{"e":1560,"a":0.04,"b":0.05,"c":0.03,"d":0.20},
{"e":1563,"a":0.05,"b":0.06,"c":0.03,"d":0.13},
{"e":1565,"a":0.02,"b":0.04,"c":0.05,"d":0.13},
{"e":1568,"a":0.04,"b":0.04,"c":0.06,"d":0.17},
{"e":1570,"a":0.05,"b":0.06,"c":0.04,"d":0.23},
{"e":1573,"a":0.06,"b":0.05,"c":0.04,"d":0.19},
{"e":1575,"a":0.03,"b":0.03,"c":0.06,"d":0.11},
{"e":1578,"a":0.03,"b":0.03,"c":0.05,"d":0.14},
{"e":1580,"a":0.04,"b":0.05,"c":0.03,"d":0.29},
{"e":1583,"a":0.05,"b":0.05,"c":0.03,"d":0.16},
{"e":1585,"a":0.07,"b":0.04,"c":0.04,"d":0.12},
{"e":1588,"a":0.04,"b":0.04,"c":0.06,"d":0.21},
{"e":1590,"a":0.03,"b":0.06,"c":0.05,"d":0.18},
{"e":1593,"a":0.03,"b":0.06,"c":0.04,"d":0.12},
{"e":1595,"a":0.05,"b":0.03,"c":0.03,"d":0.09},
{"e":1598,"a":0.05,"b":0.04,"c":0.05,"d":0.17},
{"e":1600,"a":0.04,"b":0.05,"c":0.07,"d":0.21},
{"e":1603,"a":0.04,"b":0.05,"c":0.03,"d":0.13},
{"e":1605,"a":0.02,"b":0.04,"c":0.04,"d":0.15},
{"e":1608,"a":0.06,"b":0.03,"c":0.06,"d":0.22},
{"e":1610,"a":0.06,"b":0.07,"c":0.03,"d":0.24},
{"e":1613,"a":0.03,"b":0.05,"c":0.04,"d":0.15},
{"e":1615,"a":0.03,"b":0.03,"c":0.05,"d":0.22},
{"e":1618,"a":0.05,"b":0.04,"c":0.05,"d":0.18},
{"e":1620,"a":0.05,"b":0.05,"c":0.04,"d":0.11},
{"e":1623,"a":0.04,"b":0.06,"c":0.03,"d":0.11},
{"e":1625,"a":0.04,"b":0.04,"c":0.06,"d":0.18},
{"e":1628,"a":0.03,"b":0.04,"c":0.06,"d":0.20},
{"e":1630,"a":0.03,"b":0.06,"c":0.03,"d":0.25},
{"e":1633,"a":0.05,"b":0.05,"c":0.04,"d":0.14},
{"e":1635,"a":0.07,"b":0.03,"c":0.04,"d":0.09},
{"e":1638,"a":0.04,"b":0.03,"c":0.05,"d":0.16},
{"e":1640,"a":0.04,"b":0.05,"c":0.05,"d":0.19},
{"e":1643,"a":0.06,"b":0.05,"c":0.03,"d":0.23},
{"e":1645,"a":0.02,"b":0.04,"c":0.03,"d":0.14},
{"e":1648,"a":0.03,"b":0.04,"c":0.06,"d":0.13},
{"e":1650,"a":0.05,"b":0.06,"c":0.07,"d":0.27},
{"e":1653,"a":0.05,"b":0.06,"c":0.04,"d":0.17},
{"e":1655,"a":0.03,"b":0.03,"c":0.04,"d":0.10},
{"e":1658,"a":0.04,"b":0.04,"c":0.05,"d":0.19},
{"e":1660,"a":0.04,"b":0.05,"c":0.03,"d":0.17},
{"e":1663,"a":0.03,"b":0.05,"c":0.03,"d":0.14},
{"e":1665,"a":0.06,"b":0.04,"c":0.05,"d":0.21},
{"e":1668,"a":0.05,"b":0.03,"c":0.06,"d":0.16},
{"e":1670,"a":0.03,"b":0.07,"c":0.04,"d":0.08},
{"e":1673,"a":0.04,"b":0.05,"c":0.04,"d":0.21},
{"e":1675,"a":0.05,"b":0.03,"c":0.06,"d":0.20},
{"e":1678,"a":0.06,"b":0.04,"c":0.05,"d":0.12},
{"e":1680,"a":0.04,"b":0.05,"c":0.03,"d":0.13},
{"e":1683,"a":0.03,"b":0.06,"c":0.03,"d":0.17},
{"e":1685,"a":0.02,"b":0.04,"c":0.04,"d":0.23},
{"e":1688,"a":0.05,"b":0.04,"c":0.06,"d":0.13},
{"e":1690,"a":0.06,"b":0.06,"c":0.05,"d":0.11},
{"e":1693,"a":0.04,"b":0.05,"c":0.04,"d":0.22},
{"e":1695,"a":0.03,"b":0.03,"c":0.03,"d":0.29},
{"e":1698,"a":0.03,"b":0.03,"c":0.05,"d":0.15},
{"e":1700,"a":0.05,"b":0.05,"c":0.07,"d":0.12},
{"e":1703,"a":0.05,"b":0.05,"c":0.03,"d":0.18},
{"e":1705,"a":0.04,"b":0.04,"c":0.04,"d":0.18},
{"e":1708,"a":0.04,"b":0.04,"c":0.06,"d":0.11},
{"e":1710,"a":0.03,"b":0.06,"c":0.03,"d":0.09},
{"e":1713,"a":0.06,"b":0.06,"c":0.04,"d":0.19},
{"e":1715,"a":0.07,"b":0.03,"c":0.05,"d":0.21},
{"e":1718,"a":0.03,"b":0.04,"c":0.05,"d":0.14},
{"e":1720,"a":0.04,"b":0.05,"c":0.04,"d":0.15},
{"e":1723,"a":0.05,"b":0.05,"c":0.03,"d":0.16},
{"e":1725,"a":0.02,"b":0.04,"c":0.06,"d":0.24},
{"e":1728,"a":0.04,"b":0.03,"c":0.06,"d":0.22},
{"e":1730,"a":0.05,"b":0.07,"c":0.03,"d":0.22},
{"e":1733,"a":0.03,"b":0.05,"c":0.04,"d":0.13},
{"e":1735,"a":0.03,"b":0.03,"c":0.04,"d":0.11},
{"e":1738,"a":0.05,"b":0.04,"c":0.05,"d":0.16},
{"e":1740,"a":0.04,"b":0.05,"c":0.05,"d":0.18},
{"e":1743,"a":0.04,"b":0.06,"c":0.03,"d":0.18},
{"e":1745,"a":0.06,"b":0.04,"c":0.03,"d":0.25},
{"e":1748,"a":0.06,"b":0.04,"c":0.06,"d":0.14},
{"e":1750,"a":0.03,"b":0.06,"c":0.07,"d":0.09},
{"e":1753,"a":0.03,"b":0.05,"c":0.04,"d":0.15},
{"e":1755,"a":0.05,"b":0.03,"c":0.04,"d":0.19},
{"e":1758,"a":0.05,"b":0.03,"c":0.05,"d":0.21},
{"e":1760,"a":0.04,"b":0.05,"c":0.03,"d":0.14},
{"e":1763,"a":0.04,"b":0.05,"c":0.03,"d":0.12},
{"e":1765,"a":0.02,"b":0.04,"c":0.05,"d":0.27},
{"e":1768,"a":0.03,"b":0.04,"c":0.06,"d":0.16},
{"e":1770,"a":0.07,"b":0.06,"c":0.04,"d":0.10},
{"e":1773,"a":0.05,"b":0.06,"c":0.04,"d":0.13},
{"e":1775,"a":0.03,"b":0.03,"c":0.06,"d":0.16},
{"e":1778,"a":0.04,"b":0.04,"c":0.05,"d":0.21},
{"e":1780,"a":0.05,"b":0.05,"c":0.03,"d":0.21},
{"e":1783,"a":0.06,"b":0.05,"c":0.03,"d":0.15},
{"e":1785,"a":0.04,"b":0.04,"c":0.04,"d":0.08},
{"e":1788,"a":0.03,"b":0.03,"c":0.06,"d":0.17},
{"e":1790,"a":0.03,"b":0.07,"c":0.05,"d":0.20},
{"e":1793,"a":0.05,"b":0.05,"c":0.04,"d":0.11},
{"e":1795,"a":0.06,"b":0.03,"c":0.03,"d":0.13},
{"e":1798,"a":0.04,"b":0.04,"c":0.05,"d":0.19},
{"e":1800,"a":0.04,"b":0.05,"c":0.07,"d":0.22},
{"e":1803,"a":0.03,"b":0.06,"c":0.03,"d":0.13},
{"e":1805,"a":0.02,"b":0.04,"c":0.04,"d":0.10},
{"e":1808,"a":0.05,"b":0.04,"c":0.06,"d":0.15},
{"e":1810,"a":0.05,"b":0.06,"c":0.03,"d":0.28},
{"e":1813,"a":0.04,"b":0.05,"c":0.04,"d":0.22},
{"e":1815,"a":0.03,"b":0.03,"c":0.05,"d":0.11},
{"e":1818,"a":0.06,"b":0.03,"c":0.05,"d":0.12},
{"e":1820,"a":0.04,"b":0.05,"c":0.04,"d":0.17},
{"e":1823,"a":0.03,"b":0.05,"c":0.03,"d":0.16},
{"e":1825,"a":0.07,"b":0.04,"c":0.06,"d":0.08},
{"e":1828,"a":0.05,"b":0.04,"c":0.06,"d":0.18},
{"e":1830,"a":0.03,"b":0.06,"c":0.03,"d":0.20},
{"e":1833,"a":0.09,"b":0.06,"c":0.04,"d":0.13},
{"e":1835,"a":0.17,"b":0.03,"c":0.04,"d":0.14},
{"e":1838,"a":0.07,"b":0.04,"c":0.05,"d":0.15},
{"e":1840,"a":0.05,"b":0.05,"c":0.05,"d":0.23},
{"e":1843,"a":0.04,"b":0.05,"c":0.03,"d":0.20},
{"e":1845,"a":0.04,"b":0.04,"c":0.03,"d":0.21},
{"e":1848,"a":0.03,"b":0.03,"c":0.06,"d":0.11},
{"e":1850,"a":0.02,"b":0.07,"c":0.07,"d":0.10},
{"e":1853,"a":0.05,"b":0.05,"c":0.04,"d":0.16},
{"e":1855,"a":0.06,"b":0.03,"c":0.04,"d":0.17},
{"e":1858,"a":0.04,"b":0.04,"c":0.05,"d":0.12},
{"e":1860,"a":0.03,"b":0.05,"c":0.03,"d":0.24},
{"e":1863,"a":0.06,"b":0.06,"c":0.03,"d":0.21},
{"e":1865,"a":0.05,"b":0.04,"c":0.05,"d":0.08},
{"e":1868,"a":0.03,"b":0.04,"c":0.06,"d":0.14},
{"e":1870,"a":0.04,"b":0.06,"c":0.04,"d":0.18},
{"e":1873,"a":0.05,"b":0.05,"c":0.04,"d":0.17},
{"e":1875,"a":0.03,"b":0.03,"c":0.06,"d":0.13},
{"e":1878,"a":0.04,"b":0.03,"c":0.05,"d":0.10},
{"e":1880,"a":0.07,"b":0.05,"c":0.03,"d":0.26},
{"e":1883,"a":0.03,"b":0.05,"c":0.03,"d":0.19},
{"e":1885,"a":0.04,"b":0.04,"c":0.04,"d":0.09},
{"e":1888,"a":0.05,"b":0.04,"c":0.06,"d":0.13},
{"e":1890,"a":0.02,"b":0.07,"c":0.05,"d":0.16},
{"e":1893,"a":0.04,"b":0.06,"c":0.04,"d":0.15},
{"e":1895,"a":0.05,"b":0.03,"c":0.03,"d":0.20},
{"e":1898,"a":0.06,"b":0.04,"c":0.05,"d":0.22},
{"e":1900,"a":0.03,"b":0.05,"c":0.07,"d":0.07},
{"e":1903,"a":0.03,"b":0.05,"c":0.03,"d":0.12},
{"e":1905,"a":0.04,"b":0.04,"c":0.04,"d":0.19},
{"e":1908,"a":0.05,"b":0.03,"c":0.06,"d":0.16},
{"e":1910,"a":0.06,"b":0.06,"c":0.03,"d":0.12},
{"e":1913,"a":0.04,"b":0.05,"c":0.04,"d":0.18},
{"e":1915,"a":0.03,"b":0.03,"c":0.05,"d":0.22},
{"e":1918,"a":0.03,"b":0.04,"c":0.05,"d":0.13},
{"e":1920,"a":0.05,"b":0.05,"c":0.04,"d":0.10},
{"e":1923,"a":0.05,"b":0.06,"c":0.03,"d":0.15},
{"e":1925,"a":0.04,"b":0.04,"c":0.06,"d":0.28},
{"e":1928,"a":0.04,"b":0.04,"c":0.06,"d":0.20},
{"e":1930,"a":0.02,"b":0.06,"c":0.03,"d":0.11},
{"e":1933,"a":0.06,"b":0.05,"c":0.04,"d":0.11},
{"e":1935,"a":0.07,"b":0.03,"c":0.04,"d":0.17},
{"e":1938,"a":0.03,"b":0.03,"c":0.05,"d":0.16},
{"e":1940,"a":0.03,"b":0.05,"c":0.05,"d":0.08},
{"e":1943,"a":0.05,"b":0.05,"c":0.03,"d":0.12},
{"e":1945,"a":0.05,"b":0.04,"c":0.03,"d":0.20},
{"e":1948,"a":0.04,"b":0.04,"c":0.06,"d":0.21},
{"e":1950,"a":0.04,"b":0.07,"c":0.07,"d":0.14},
{"e":1953,"a":0.03,"b":0.06,"c":0.04,"d":0.14},
{"e":1955,"a":0.03,"b":0.03,"c":0.04,"d":0.23},
{"e":1958,"a":0.05,"b":0.04,"c":0.05,"d":0.17},
{"e":1960,"a":0.06,"b":0.05,"c":0.03,"d":0.21},
{"e":1963,"a":0.04,"b":0.05,"c":0.03,"d":0.10},
{"e":1965,"a":0.04,"b":0.04,"c":0.05,"d":0.10},
{"e":1968,"a":0.06,"b":0.03,"c":0.06,"d":0.19},
{"e":1970,"a":0.02,"b":0.06,"c":0.04,"d":0.17},
{"e":1973,"a":0.03,"b":0.05,"c":0.04,"d":0.13},
{"e":1975,"a":0.05,"b":0.03,"c":0.06,"d":0.24},
{"e":1978,"a":0.05,"b":0.04,"c":0.05,"d":0.15},
{"e":1980,"a":0.03,"b":0.05,"c":0.03,"d":0.08},
{"e":1983,"a":0.04,"b":0.06,"c":0.03,"d":0.22},
{"e":1985,"a":0.04,"b":0.04,"c":0.04,"d":0.18},
{"e":1988,"a":0.03,"b":0.04,"c":0.06,"d":0.12},
{"e":1990,"a":0.07,"b":0.06,"c":0.05,"d":0.13},
{"e":1993,"a":0.05,"b":0.05,"c":0.04,"d":0.16},
{"e":1995,"a":0.03,"b":0.03,"c":0.03,"d":0.26},
{"e":1998,"a":0.04,"b":0.03,"c":0.05,"d":0.18},
{"e":2000,"a":0.05,"b":0.05,"c":0.07,"d":0.09},
{"e":2003,"a":0.06,"b":0.05,"c":0.03,"d":0.20},
{"e":2005,"a":0.04,"b":0.04,"c":0.04,"d":0.30},
{"e":2008,"a":0.03,"b":0.04,"c":0.06,"d":0.19},
{"e":2010,"a":0.03,"b":0.07,"c":0.03,"d":0.16},
{"e":2013,"a":0.05,"b":0.06,"c":0.04,"d":0.19},
{"e":2015,"a":0.06,"b":0.03,"c":0.05,"d":0.20},
{"e":2018,"a":0.04,"b":0.04,"c":0.05,"d":0.11},
{"e":2020,"a":0.04,"b":0.05,"c":0.04,"d":0.07},
{"e":2023,"a":0.03,"b":0.05,"c":0.03,"d":0.15},
{"e":2025,"a":0.02,"b":0.04,"c":0.06,"d":0.19},
{"e":2028,"a":0.05,"b":0.03,"c":0.06,"d":0.12},
{"e":2030,"a":0.05,"b":0.06,"c":0.03,"d":0.12},
{"e":2033,"a":0.04,"b":0.05,"c":0.04,"d":0.20},
{"e":2035,"a":0.03,"b":0.03,"c":0.04,"d":0.22},
{"e":2038,"a":0.06,"b":0.04,"c":0.05,"d":0.13},
{"e":2040,"a":0.04,"b":0.05,"c":0.05,"d":0.10},
{"e":2043,"a":0.03,"b":0.06,"c":0.03,"d":0.16},
{"e":2045,"a":0.07,"b":0.04,"c":0.03,"d":0.27},
{"e":2048,"a":0.05,"b":0.04,"c":0.06,"d":0.15},
{"e":2050,"a":0.03,"b":0.06,"c":0.07,"d":0.11},
{"e":2053,"a":0.04,"b":0.05,"c":0.04,"d":0.18},
{"e":2055,"a":0.05,"b":0.03,"c":0.04,"d":0.17},
{"e":2058,"a":0.03,"b":0.03,"c":0.05,"d":0.12},
{"e":2060,"a":0.04,"b":0.05,"c":0.03,"d":0.08},
{"e":2063,"a":0.05,"b":0.05,"c":0.03,"d":0.14},
{"e":2065,"a":0.02,"b":0.04,"c":0.05,"d":0.20},
{"e":2068,"a":0.04,"b":0.04,"c":0.06,"d":0.21},
{"e":2070,"a":0.06,"b":0.06,"c":0.04,"d":0.14},
{"e":2073,"a":0.06,"b":0.06,"c":0.04,"d":0.11},
{"e":2075,"a":0.03,"b":0.03,"c":0.06,"d":0.23},
{"e":2078,"a":0.03,"b":0.04,"c":0.05,"d":0.15},
{"e":2080,"a":0.05,"b":0.05,"c":0.03,"d":0.21},
{"e":2083,"a":0.05,"b":0.05,"c":0.03,"d":0.17},
{"e":2085,"a":0.04,"b":0.04,"c":0.04,"d":0.10},
{"e":2088,"a":0.04,"b":0.03,"c":0.06,"d":0.12},
{"e":2090,"a":0.03,"b":0.07,"c":0.05,"d":0.17},
{"e":2093,"a":0.03,"b":0.05,"c":0.04,"d":0.14},
{"e":2095,"a":0.06,"b":0.03,"c":0.03,"d":0.24},
{"e":2098,"a":0.05,"b":0.04,"c":0.05,"d":0.19},
{"e":2100,"a":0.04,"b":0.05,"c":0.07,"d":0.08},
{"e":2103,"a":0.04,"b":0.06,"c":0.03,"d":0.10},
{"e":2105,"a":0.02,"b":0.04,"c":0.04,"d":0.18},
{"e":2108,"a":0.06,"b":0.04,"c":0.06,"d":0.15},
{"e":2110,"a":0.05,"b":0.06,"c":0.03,"d":0.13},
{"e":2113,"a":0.03,"b":0.05,"c":0.04,"d":0.11},
{"e":2115,"a":0.03,"b":0.03,"c":0.05,"d":0.26},
{"e":2118,"a":0.05,"b":0.03,"c":0.05,"d":0.20},
{"e":2120,"a":0.04,"b":0.05,"c":0.04,"d":0.09},
{"e":2123,"a":0.04,"b":0.05,"c":0.03,"d":0.13},
{"e":2125,"a":0.06,"b":0.04,"c":0.06,"d":0.16},
{"e":2128,"a":0.03,"b":0.04,"c":0.06,"d":0.16},
{"e":2130,"a":0.04,"b":0.05,"c":0.05,"d":0.12}
    ]
  },
  "layer": [
    {
      "data": {"name": "loss"},
      "transform": [{"fold": ["a", "b", "c", "d"], "as": ["series", "loss"]}],
      "mark": {"type": "line", "strokeWidth": 3},
      "encoding": {
        "x": {
          "field": "e", "type": "quantitative",
          "scale": {"domain": [0, 2500], "nice": false},
          "axis": {
            "orient": "bottom", "values": [0, 500, 1000, 1500, 2000, 2500], "format": "d",
            "grid": true, "labelFlush": false, "labelPadding": 29, "labelFontSize": 43,
            "title": "Iteration Epoch", "titlePadding": 7
          }
        },
        "y": {
          "field": "loss", "type": "quantitative",
          "scale": {"domain": [0, 1.8], "nice": false},
          "axis": {
            "orient": "left", "values": [0, 0.2, 0.4, 0.6, 0.8, 1, 1.2, 1.4, 1.6, 1.8], "format": "~g",
            "grid": true, "labelFlush": false, "labelPadding": 25,
            "title": "Loss", "titlePadding": 1
          }
        },
        "color": {
          "field": "series", "type": "nominal",
          "scale": {"domain": ["a", "b", "c", "d"], "range": ["#0072BD", "#D95319", "#EDB120", "#7E2F8E"]},
          "legend": {
            "orient": "none", "legendX": 1310, "legendY": 14, "title": null,
            "labelExpr": "datum.label == 'a' ? 'Feature Set 1' : datum.label == 'b' ? 'Feature Set 2' : datum.label == 'c' ? 'Feature Set 3' : 'Feature Set 4'",
            "symbolType": "M-1,0H1.8", "symbolSize": 1369, "symbolStrokeWidth": 3,
            "labelFont": "Liberation Serif", "labelFontSize": 39, "labelColor": "#000", "labelLimit": 400, "labelOffset": 19,
            "padding": 4, "rowPadding": 5,
            "fillColor": "white", "strokeColor": "#333", "cornerRadius": 0
          }
        }
      }
    },
    {
      "data": {"name": "loss"},
      "mark": {"type": "line", "strokeOpacity": 0},
      "encoding": {
        "x": {
          "field": "e", "type": "quantitative",
          "scale": {"domain": [0, 2500], "nice": false},
          "axis": {
            "orient": "top", "values": [0, 500, 1000, 1500, 2000, 2500], "labels": false, "grid": false,
            "title": "Training Loss", "titleFontSize": 47, "titleFontWeight": "bold", "titleBaseline": "alphabetic", "titlePadding": 15
          }
        },
        "y": {
          "field": "d", "type": "quantitative",
          "scale": {"domain": [0, 1.8], "nice": false},
          "axis": {"orient": "right", "values": [0, 0.2, 0.4, 0.6, 0.8, 1, 1.2, 1.4, 1.6, 1.8], "labels": false, "title": null, "grid": false}
        }
      }
    },
    {
      "data": {"values": [{"epoch": 210}]},
      "mark": {"type": "rule", "color": "#00B0F0", "strokeWidth": 4.5, "strokeDash": [21, 17]},
      "encoding": {"x": {"field": "epoch", "type": "quantitative", "axis": null}}
    },
    {
      "data": {"values": [{"epoch": 781}]},
      "mark": {"type": "rule", "color": "#FF0000", "strokeWidth": 4.5, "strokeDash": [21, 17]},
      "encoding": {"x": {"field": "epoch", "type": "quantitative", "axis": null}}
    }
  ],
  "resolve": {"axis": {"x": "independent", "y": "independent"}}
}
